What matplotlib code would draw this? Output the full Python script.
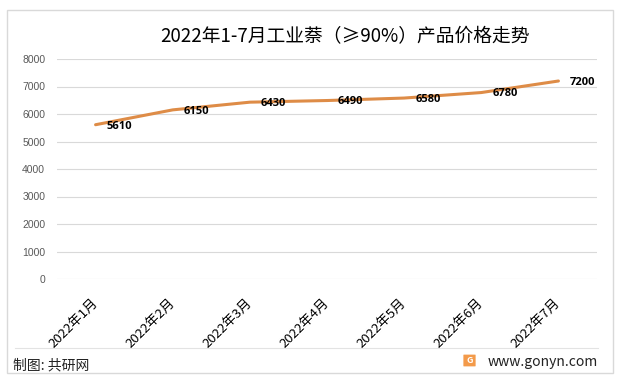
import matplotlib.pyplot as plt
from matplotlib.patches import Rectangle, FancyBboxPatch
from matplotlib.lines import Line2D

plt.rcParams["font.family"] = ["Noto Sans CJK SC", "DejaVu Sans"]

months = ["2022年1月", "2022年2月", "2022年3月", "2022年4月",
          "2022年5月", "2022年6月", "2022年7月"]
prices = [5610, 6150, 6430, 6490, 6580, 6780, 7200]
yticks = [0, 1000, 2000, 3000, 4000, 5000, 6000, 7000, 8000]

title = "2022年1-7月工业萘（≥90%）产品价格走势"
line_color = "#DE8C47"
grid_color = "#D9D9D9"

W, H = 620, 383
fig = plt.figure(figsize=(6.2, 3.83), dpi=100)
ax = fig.add_axes([57 / W, (H - 279) / H, 540 / W, 220 / H])

x = list(range(len(months)))
ax.plot(x, prices, color=line_color, lw=2.2, solid_capstyle="round")

for xi, v in zip(x, prices):
    ax.annotate(f"{v}", (xi, v), xytext=(8, -1), textcoords="offset points",
                ha="left", va="center", fontsize=8, fontweight="bold",
                family="Open Sans", color="black")

ax.set_xlim(-0.5, 6.5)
ax.set_ylim(0, 8000)
ax.set_yticks(yticks)
ax.set_yticklabels([str(t) for t in yticks], fontsize=7.5, color="#595959",
                   family="Liberation Sans")
ax.set_xticks(x)
ax.set_xticklabels(months, rotation=45, ha="right", va="center",
                   rotation_mode="anchor", fontsize=9.5, color="black")
ax.tick_params(axis="both", length=0)
ax.tick_params(axis="x", pad=16)
ax.tick_params(axis="y", pad=8.5)
ax.grid(axis="y", color=grid_color, lw=0.8)
ax.set_axisbelow(True)
for s in ax.spines.values():
    s.set_visible(False)

fig.text(345 / W, 1 - 37 / H, title, ha="center", va="center",
         fontsize=13.5, color="black")

# outer frame and footer
fig.patches.append(Rectangle((7 / W, 10 / H), 606 / W, 363 / H,
                             transform=fig.transFigure, fill=False,
                             ec=grid_color, lw=1.0))
fig.lines.append(Line2D([15 / W, 598 / W], [1 - 347.5 / H, 1 - 347.5 / H],
                        transform=fig.transFigure, color="#E3E3E3", lw=0.8))
fig.text(13 / W, 1 - 365 / H, "制图: 共研网", ha="left", va="center",
         fontsize=10, color="#222222")
fig.patches.append(FancyBboxPatch((464 / W, 1 - 366 / H), 11 / W, 11 / H,
                                  boxstyle="round,pad=0.001",
                                  transform=fig.transFigure,
                                  fc="#F39A4A", ec="none"))
fig.text(469.5 / W, 1 - 360.5 / H, "G", ha="center", va="center",
         fontsize=6.5, fontweight="bold", color="white")
fig.text(598 / W, 1 - 362 / H, "www.gonyn.com", ha="right", va="center",
         fontsize=10, color="#222222")

fig.savefig("out.png", dpi=100)
